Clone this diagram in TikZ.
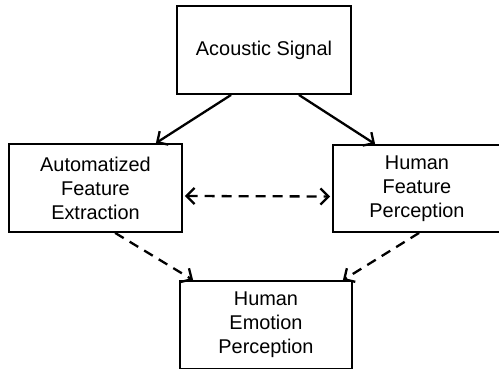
\documentclass[tikz,border=0pt]{standalone}
\usepackage{fontspec}
\setmainfont{Liberation Sans}
\usetikzlibrary{arrows.meta}
\begin{document}
\begin{tikzpicture}[x=1pt,y=-1pt,
  box/.style={draw, line width=1.8pt, inner sep=0pt, align=center,
    font=\fontsize{19.9}{24}\selectfont},
  tip/.style={},
  conn/.style={line width=2.3pt, -{Straight Barb[length=8pt,width=16pt,line width=2.3pt]}},
  dconn/.style={conn, dash pattern=on 10pt off 7pt}]
\useasboundingbox (0,0) rectangle (499,368);
\node[box, minimum width=174pt, minimum height=88pt] (sig) at (264,50) {Acoustic Signal};
\node[box, minimum width=173pt, minimum height=88pt] (auto) at (95.5,188) {Automatized\\Feature\\Extraction};
\node[box, minimum width=168pt, minimum height=87pt] (hfp) at (417,188.5) {Human\\Feature\\Perception};
\node[box, minimum width=172pt, minimum height=88pt] (hep) at (266,325) {\raisebox{-3pt}{\begin{tabular}{@{}c@{}}Human\\[0pt]Emotion\\Perception\end{tabular}}};
\draw[conn] ([xshift=55pt]sig.south west) -- ([xshift=-27pt]auto.north east);
\draw[conn] ([xshift=-53pt]sig.south east) -- ([xshift=43pt]hfp.north west);
\draw[dconn] ([xshift=107pt]auto.south west) -- ([xshift=14pt]hep.north west);
\draw[dconn] ([xshift=87pt]hfp.south west) -- ([xshift=-10pt]hep.north east);
\draw[dconn, {Straight Barb[length=8pt,width=16pt,line width=2.3pt]}-{Straight Barb[length=8pt,width=16pt,line width=2.3pt]}] ([yshift=-8pt,xshift=2pt]auto.east) -- ([yshift=-8pt,xshift=-2pt]hfp.west);
\end{tikzpicture}
\end{document}
